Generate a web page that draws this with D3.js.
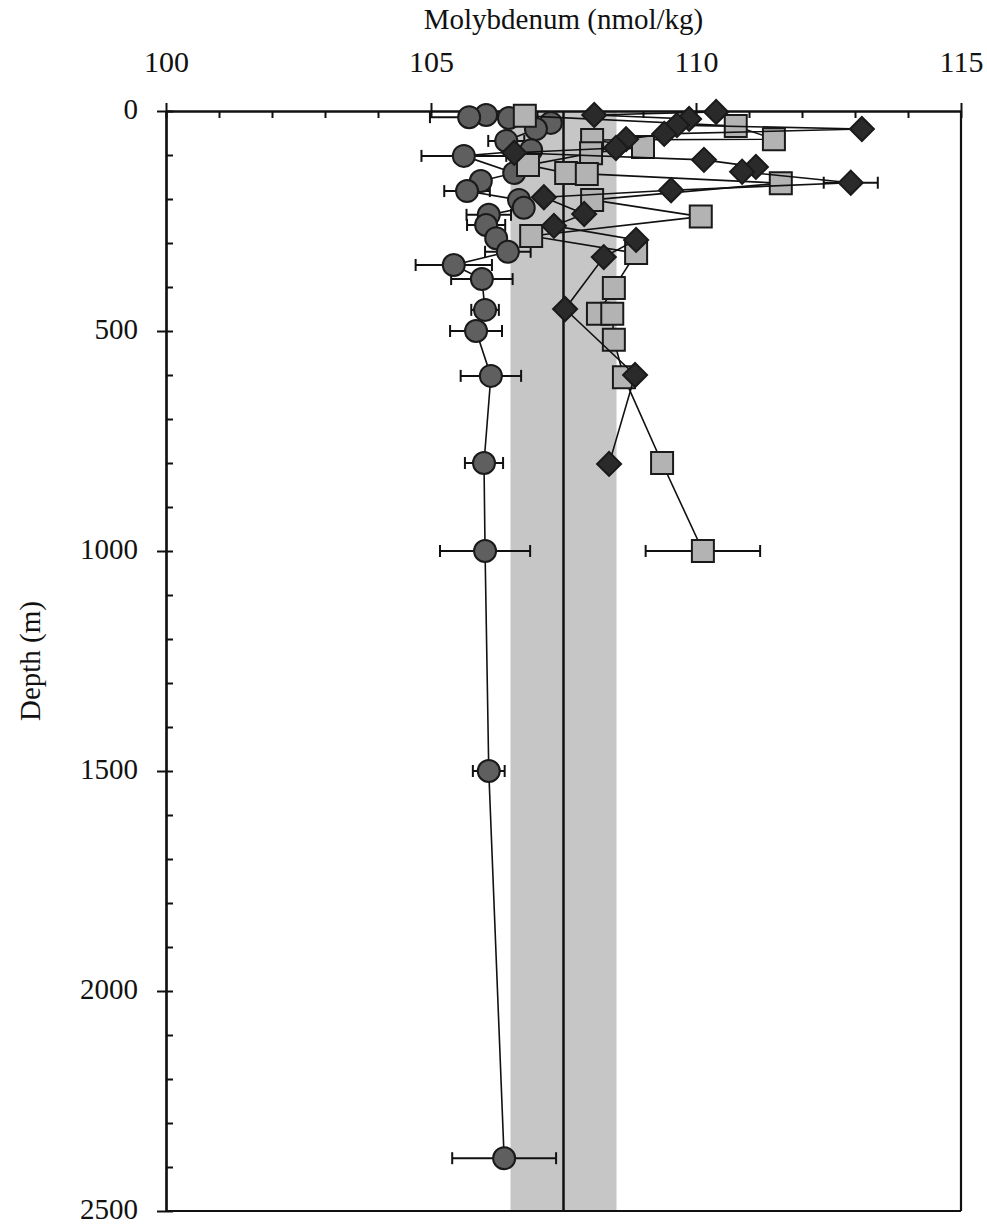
<!DOCTYPE html>
<html>
<head>
<meta charset="utf-8">
<script src="https://cdn.jsdelivr.net/npm/d3@7"></script>
<style>
  html, body { margin: 0; padding: 0; background: #fff; }
  svg { display: block; }
  text { font-family: "Liberation Serif", "DejaVu Serif", serif; fill: #111; }
</style>
</head>
<body>
<svg id="chart" width="987" height="1224"></svg>
<script>
// ---------- data ----------
const xTicks = [100, 105, 110, 115];
const yTicks = [0, 500, 1000, 1500, 2000, 2500];
const xTitle = "Molybdenum (nmol/kg)";
const yTitle = "Depth (m)";

const meanMo = 107.5;
const bandLow = 106.5;
const bandHigh = 108.5;

// circles (dark grey)
const circleDepth = [9, 14, 16, 27, 41, 68, 89, 102, 141, 159, 182, 202, 220, 236, 259, 289, 320, 350, 382, 452, 500, 602, 800, 1000, 1500, 2380];
const circleMo    = [106.04, 105.72, 106.47, 107.26, 106.98, 106.42, 106.89, 105.62, 106.57, 105.94, 105.68, 106.66, 106.75, 106.09, 106.04, 106.23, 106.45, 105.43, 105.96, 106.02, 105.85, 106.13, 106.0, 106.02, 106.09, 106.38];
const circleErr   = [0, 0.74, 0, 0, 0, 0.34, 0, 0.8, 0, 0, 0.43, 0, 0, 0.42, 0.36, 0, 0.43, 0.72, 0.58, 0.26, 0.49, 0.57, 0.36, 0.85, 0.3, 0.98];

// squares (light grey)
const squareDepth = [11, 34, 64, 66, 82, 96, 123, 141, 143, 164, 202, 240, 284, 323, 402, 461, 461, 520, 605, 800, 1000];
const squareMo    = [106.77, 110.75, 111.47, 108.04, 109.0, 108.02, 106.83, 107.55, 107.94, 111.6, 108.04, 110.09, 106.89, 108.87, 108.45, 108.15, 108.42, 108.45, 108.64, 109.36, 110.13];
const squareErr   = [0, 0, 0, 0, 0, 0, 0, 0, 0, 0, 0, 0, 0, 0, 0, 0, 0, 0, 0, 0, 1.08];

// diamonds (black)
const diamondDepth = [2, 9, 18, 32, 41, 52, 64, 84, 95, 111, 127, 138, 163, 180, 196, 234, 261, 293, 332, 450, 600, 802];
const diamondMo    = [110.38, 108.08, 109.87, 109.64, 113.13, 109.4, 108.68, 108.49, 106.57, 110.15, 111.13, 110.87, 112.92, 109.53, 107.13, 107.89, 107.32, 108.87, 108.26, 107.53, 108.85, 108.36];
const diamondErr   = [0, 0, 0, 0, 0, 0, 0, 0, 0, 0, 0, 0, 0.51, 0, 0, 0, 0, 0, 0, 0, 0, 0];

// ---------- layout ----------
const pL = 166, pR = 961, pT = 111, pB = 1211;
const svg = d3.select("#chart");

const x = d3.scaleLinear().domain([100, 115]).range([pL, pR]);
const y = d3.scaleLinear().domain([0, 2500]).range([pT, pB]);

// band + mean line
svg.append("rect")
  .attr("x", x(bandLow)).attr("y", y(0))
  .attr("width", x(bandHigh) - x(bandLow)).attr("height", y(2500) - y(0))
  .attr("fill", "#c6c6c6");
svg.append("line")
  .attr("x1", x(meanMo)).attr("x2", x(meanMo))
  .attr("y1", y(0)).attr("y2", y(2500))
  .attr("stroke", "#111").attr("stroke-width", 2.5);

// axes
const minorX = d3.range(100, 115.001, 1);
const minorY = d3.range(0, 2500.001, 100);

const gx = svg.append("g").attr("transform", `translate(0,${pT})`);
gx.call(d3.axisTop(x).tickValues(xTicks).tickSizeInner(8).tickSizeOuter(0).tickPadding(31).tickFormat(d3.format("d")));
const gxm = svg.append("g").attr("transform", `translate(0,${pT})`);
gxm.call(d3.axisTop(x).tickValues(minorX).tickSizeInner(-7).tickSizeOuter(0).tickFormat(""));

const gy = svg.append("g").attr("transform", `translate(${pL},0)`);
gy.call(d3.axisLeft(y).tickValues(yTicks).tickSizeInner(9).tickSizeOuter(0).tickPadding(19).tickFormat(d3.format("d")));
const gym = svg.append("g").attr("transform", `translate(${pL},0)`);
gym.call(d3.axisLeft(y).tickValues(minorY).tickSizeInner(-7).tickSizeOuter(0).tickFormat(""));

[gx, gxm, gy, gym].forEach(g => {
  g.selectAll("path.domain").attr("stroke", "#111").attr("stroke-width", 2.2);
  g.selectAll(".tick line").attr("stroke", "#111").attr("stroke-width", 2);
  g.selectAll(".tick text").style("font-family", "'Liberation Serif', serif").style("font-size", "30px").attr("fill", "#111");
});
gx.selectAll(".tick text").attr("dy", "0");
gy.selectAll(".tick text").style("font-size", "29px").attr("dy", "0.25em");

// right and bottom frame
svg.append("line").attr("x1", pR).attr("x2", pR).attr("y1", pT).attr("y2", pB)
  .attr("stroke", "#111").attr("stroke-width", 2.2);
svg.append("line").attr("x1", pL).attr("x2", pR).attr("y1", pB).attr("y2", pB)
  .attr("stroke", "#111").attr("stroke-width", 2.2);

// titles
svg.append("text").attr("x", (pL + pR) / 2).attr("y", 29)
  .attr("text-anchor", "middle").style("font-size", "29px").text(xTitle);
svg.append("text").attr("transform", `translate(40,${(pT + pB) / 2}) rotate(-90)`)
  .attr("text-anchor", "middle").style("font-size", "29px").text(yTitle);

// ---------- series ----------
function series(depth, mo, err, shape, fill) {
  const pts = depth.map((d, i) => ({ d, v: mo[i], e: err[i] }));
  const g = svg.append("g");
  g.append("path")
    .attr("d", d3.line().x(p => x(p.v)).y(p => y(p.d))(pts))
    .attr("fill", "none").attr("stroke", "#111").attr("stroke-width", 1.6);
  const eb = g.selectAll("g.err").data(pts.filter(p => p.e > 0)).enter().append("g");
  eb.append("line").attr("x1", p => x(p.v - p.e)).attr("x2", p => x(p.v + p.e))
    .attr("y1", p => y(p.d)).attr("y2", p => y(p.d)).attr("stroke", "#111").attr("stroke-width", 2);
  eb.append("line").attr("x1", p => x(p.v - p.e)).attr("x2", p => x(p.v - p.e))
    .attr("y1", p => y(p.d) - 6).attr("y2", p => y(p.d) + 6).attr("stroke", "#111").attr("stroke-width", 2);
  eb.append("line").attr("x1", p => x(p.v + p.e)).attr("x2", p => x(p.v + p.e))
    .attr("y1", p => y(p.d) - 6).attr("y2", p => y(p.d) + 6).attr("stroke", "#111").attr("stroke-width", 2);
  const sym = d3.symbol().type(shape.type).size(shape.size);
  g.selectAll("path.m").data(pts).enter().append("path")
    .attr("class", "m")
    .attr("d", sym)
    .attr("transform", p => `translate(${x(p.v)},${y(p.d)}) rotate(${shape.rot || 0})`)
    .attr("fill", fill).attr("stroke", "#1a1a1a").attr("stroke-width", 2);
}

series(circleDepth, circleMo, circleErr, { type: d3.symbolCircle, size: Math.PI * 11 * 11 }, "#5f5f5f");
series(squareDepth, squareMo, squareErr, { type: d3.symbolSquare, size: 22 * 22 }, "#b3b3b3");
series(diamondDepth, diamondMo, diamondErr, { type: d3.symbolSquare, size: 17 * 17, rot: 45 }, "#2a2a2a");
</script>
</body>
</html>
